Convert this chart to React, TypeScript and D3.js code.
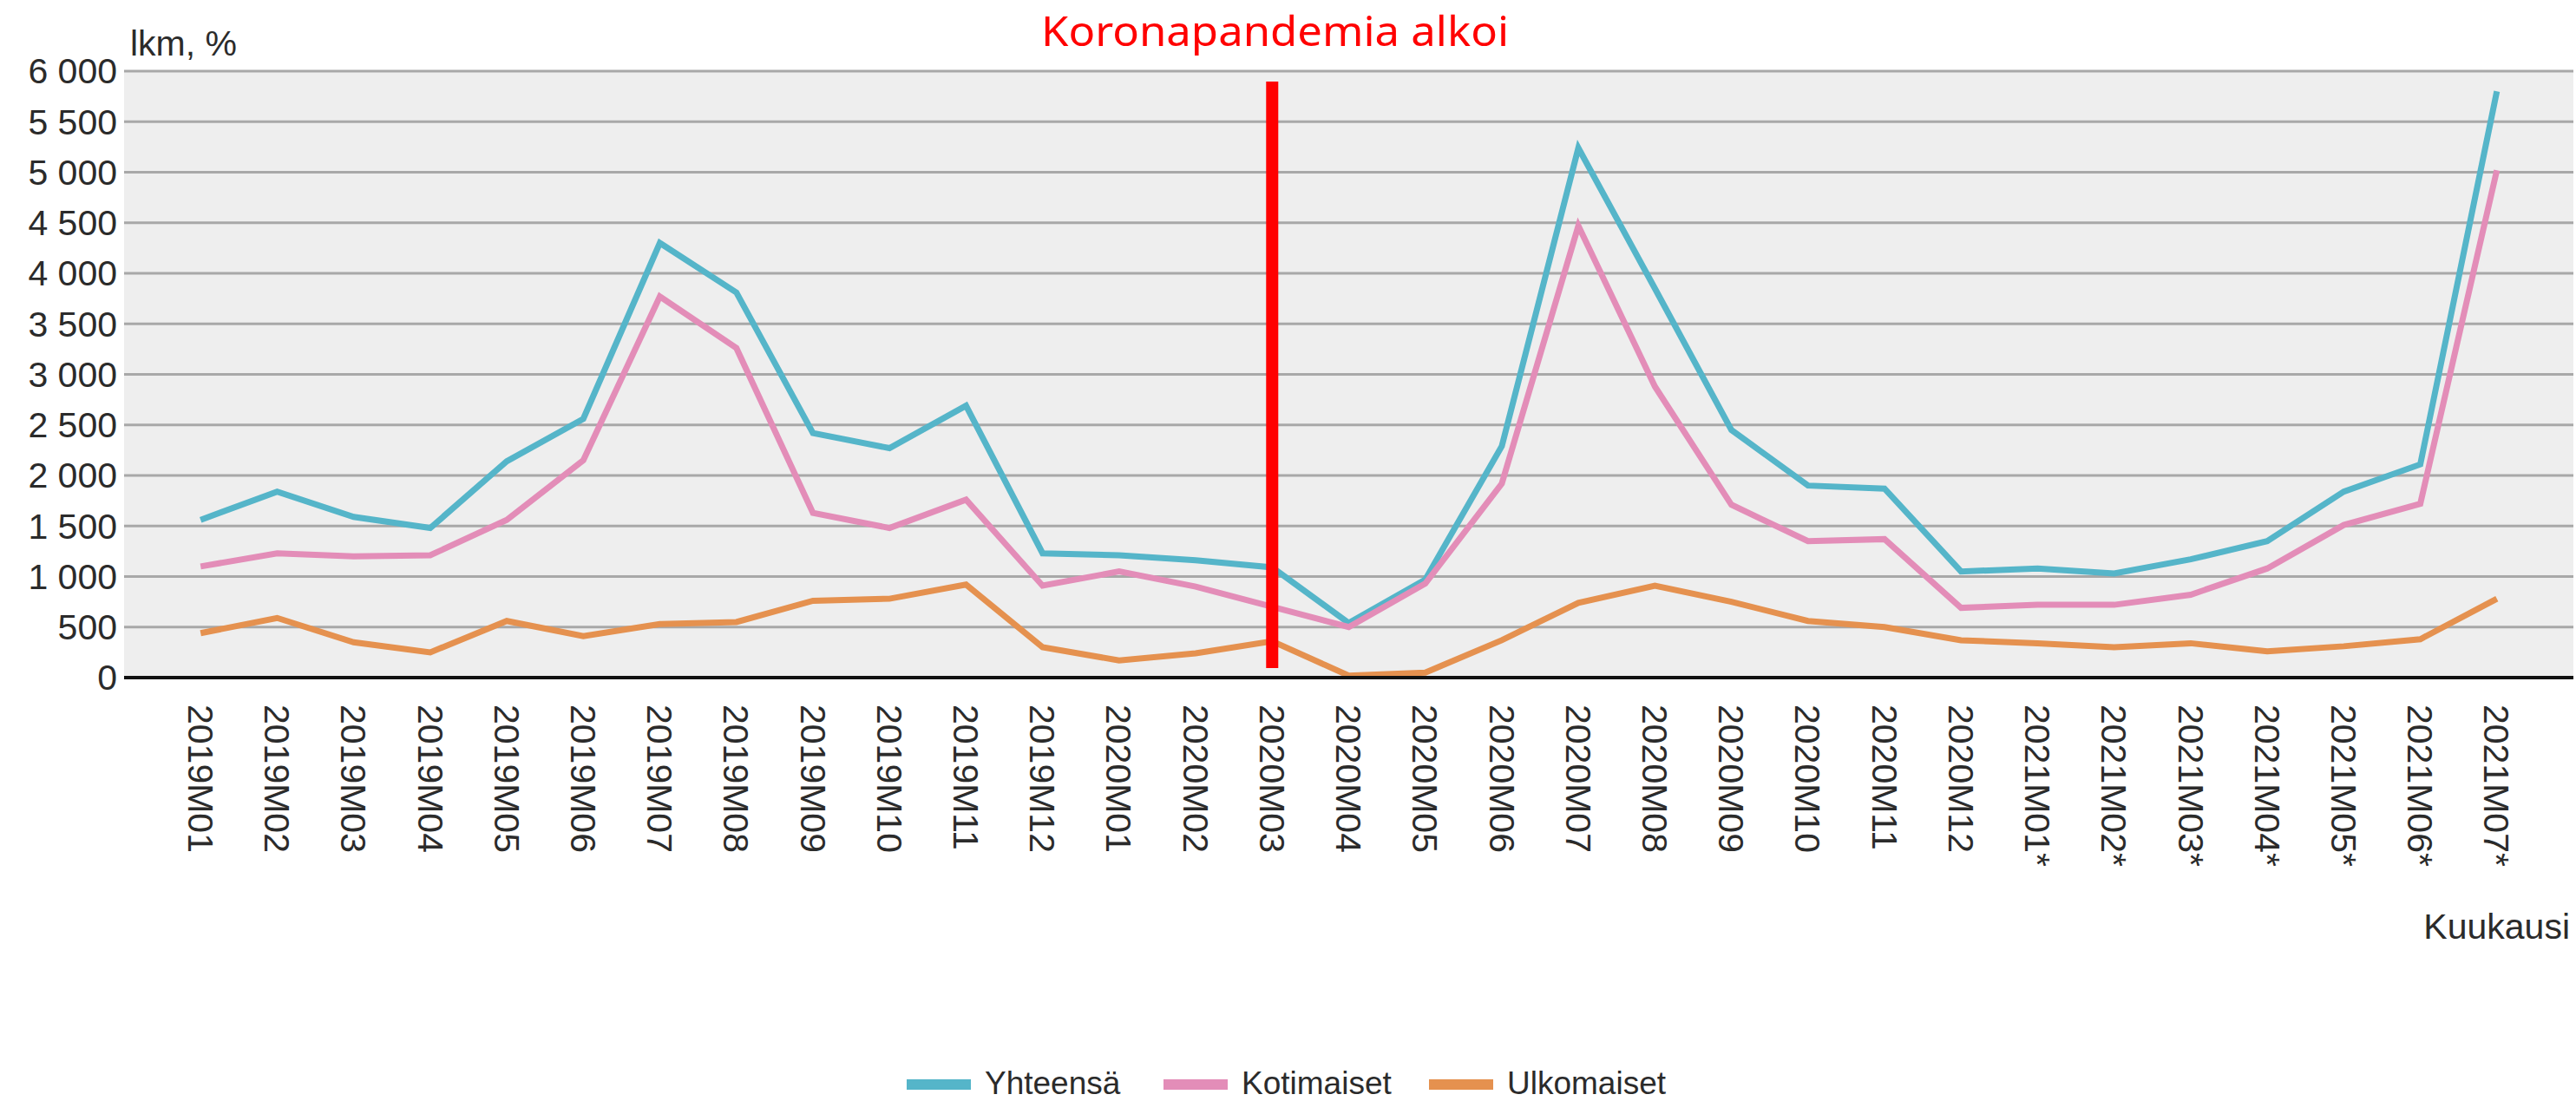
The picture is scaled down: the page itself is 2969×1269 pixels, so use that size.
import { useEffect, useRef } from 'react';
import * as d3 from 'd3';

const months = [
  '2019M01', '2019M02', '2019M03', '2019M04', '2019M05', '2019M06', '2019M07', '2019M08',
  '2019M09', '2019M10', '2019M11', '2019M12', '2020M01', '2020M02', '2020M03', '2020M04',
  '2020M05', '2020M06', '2020M07', '2020M08', '2020M09', '2020M10', '2020M11', '2020M12',
  '2021M01*', '2021M02*', '2021M03*', '2021M04*', '2021M05*', '2021M06*', '2021M07*'
];

const yhteensa = [
  1560, 1840, 1590, 1480, 2140, 2560, 4300, 3810, 2420, 2270, 2690, 1230, 1210, 1160, 1090, 540,
  970, 2290, 5240, 3850, 2450, 1900, 1870, 1050, 1080, 1030, 1170, 1350, 1840, 2110, 5800
];

const kotimaiset = [
  1100, 1230, 1200, 1210, 1560, 2150, 3770, 3260, 1630, 1480, 1760, 910, 1050, 900, 700, 500,
  930, 1920, 4470, 2880, 1710, 1350, 1370, 690, 720, 720, 820, 1080, 1510, 1720, 5020
];

const ulkomaiset = [
  440, 590, 350, 250, 560, 410, 530, 550, 760, 780, 920, 300, 170, 240, 360, 20,
  50, 370, 740, 910, 750, 560, 500, 370, 340, 300, 340, 260, 310, 380, 780
];

const seriesNames = ['Yhteensä', 'Kotimaiset', 'Ulkomaiset'];
const seriesColors = ['#55b5c9', '#e38db8', '#e5914f'];
const yTicks = [0, 500, 1000, 1500, 2000, 2500, 3000, 3500, 4000, 4500, 5000, 5500, 6000];

const annotationMonth = '2020M03';
const annotationText = 'Koronapandemia alkoi';

const W = 2969;
const H = 1269;
const font = '"Liberation Sans", Arial, sans-serif';

export default function App() {
  const svgRef = useRef<SVGSVGElement | null>(null);

  useEffect(() => {
    const svg = d3.select(svgRef.current);
    svg.selectAll('*').remove();

    const left = 143;
    const right = 2966;
    const top = 82;
    const bottom = 781;

    const x = d3.scalePoint<string>().domain(months).range([left, right]).padding(1);
    const y = d3.scaleLinear().domain([0, 6000]).range([bottom, top]);

    const fi = d3.formatLocale({ decimal: ',', thousands: ' ', grouping: [3], currency: ['', ' €'] });
    const fmt = fi.format(',d');

    svg.append('rect')
      .attr('x', 0).attr('y', 0).attr('width', W).attr('height', H)
      .attr('fill', '#fff');

    svg.append('rect')
      .attr('x', left).attr('y', top)
      .attr('width', right - left).attr('height', bottom - top)
      .attr('fill', '#eeeeee');

    // gridlines + y labels
    svg.append('g')
      .selectAll('line')
      .data(yTicks.filter(d => d > 0))
      .join('line')
      .attr('x1', left).attr('x2', right)
      .attr('y1', d => y(d)).attr('y2', d => y(d))
      .attr('stroke', '#a8a8a8')
      .attr('stroke-width', 3);

    svg.append('g')
      .selectAll('text')
      .data(yTicks)
      .join('text')
      .attr('x', 135)
      .attr('y', d => y(d))
      .attr('dy', '0.35em')
      .attr('text-anchor', 'end')
      .attr('fill', '#2b2b2b')
      .style('font-family', font)
      .style('font-size', '41px')
      .text(d => fmt(d));

    svg.append('text')
      .attr('x', 150).attr('y', 64)
      .attr('fill', '#2b2b2b')
      .style('font-family', font)
      .style('font-size', '41px')
      .text('lkm, %');

    // x labels
    svg.append('g')
      .selectAll('text')
      .data(months)
      .join('text')
      .attr('transform', d => `translate(${x(d)},812) rotate(90)`)
      .attr('dy', '0.35em')
      .attr('fill', '#2b2b2b')
      .style('font-family', font)
      .style('font-size', '41px')
      .text(d => d);

    svg.append('text')
      .attr('x', 2962).attr('y', 1082)
      .attr('text-anchor', 'end')
      .attr('fill', '#2b2b2b')
      .style('font-family', font)
      .style('font-size', '41px')
      .text('Kuukausi');

    // series
    const allSeries = [yhteensa, kotimaiset, ulkomaiset];
    const line = d3.line<number>()
      .x((d, i) => x(months[i]) as number)
      .y(d => y(d));

    allSeries.forEach((values, i) => {
      svg.append('path')
        .datum(values)
        .attr('d', line)
        .attr('fill', 'none')
        .attr('stroke', seriesColors[i])
        .attr('stroke-width', 7);
    });

    // x axis line
    svg.append('line')
      .attr('x1', left).attr('x2', right)
      .attr('y1', bottom).attr('y2', bottom)
      .attr('stroke', '#111')
      .attr('stroke-width', 4);

    // pandemic marker
    const ax = x(annotationMonth) as number;
    svg.append('rect')
      .attr('x', ax - 7).attr('y', 94)
      .attr('width', 14).attr('height', 676)
      .attr('fill', '#ff0000');

    svg.append('text')
      .attr('x', 1200).attr('y', 53)
      .attr('fill', '#ff0000')
      .attr('textLength', 539)
      .attr('lengthAdjust', 'spacingAndGlyphs')
      .style('font-family', '"Noto Sans", "Open Sans", sans-serif')
      .style('font-size', '48px')
      .text(annotationText);

    // legend
    const legendX = [1045, 1341, 1647];
    const legend = svg.append('g');
    seriesNames.forEach((name, i) => {
      const g = legend.append('g').attr('transform', `translate(${legendX[i]},1250)`);
      g.append('rect')
        .attr('x', 0).attr('y', -6)
        .attr('width', 74).attr('height', 12)
        .attr('fill', seriesColors[i]);
      g.append('text')
        .attr('x', 90).attr('y', 11)
        .attr('fill', '#2b2b2b')
        .style('font-family', font)
        .style('font-size', '37px')
        .text(name);
    });
  }, []);

  return (
    <svg
      ref={svgRef}
      width={W}
      height={H}
      style={{ position: 'absolute', left: 0, top: 0, display: 'block' }}
    />
  );
}
